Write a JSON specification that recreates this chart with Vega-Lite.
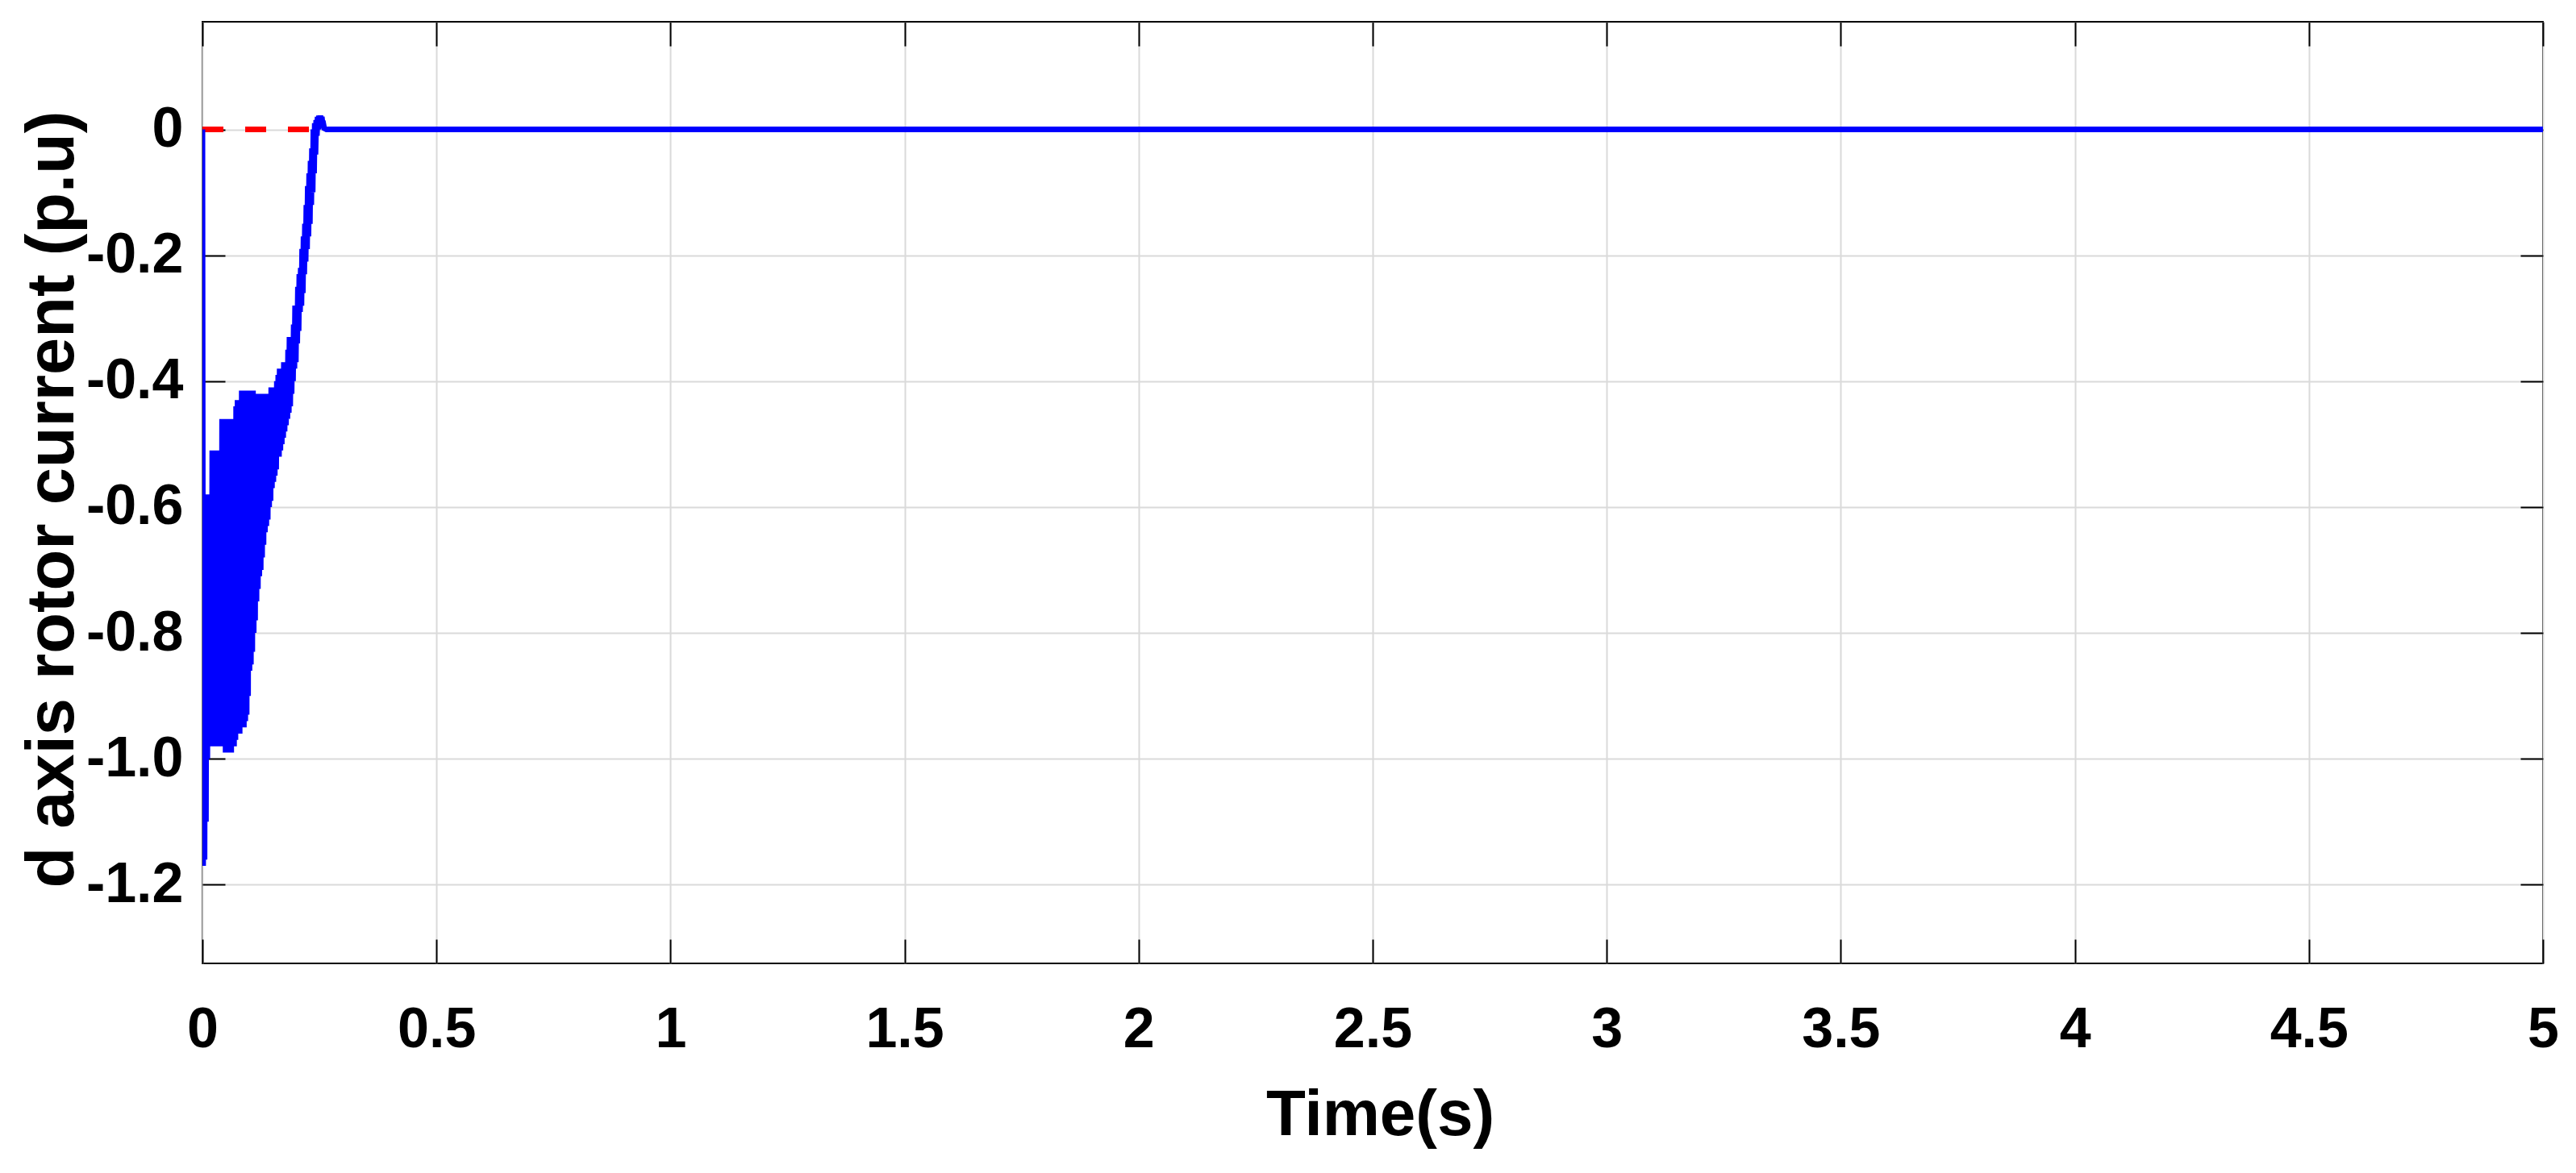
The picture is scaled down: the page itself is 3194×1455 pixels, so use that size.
{
  "$schema": "https://vega.github.io/schema/vega-lite/v6.json",
  "autosize": {"type": "none"},
  "padding": {"left": 251, "top": 27, "right": 41, "bottom": 260},
  "width": 2902,
  "height": 1168,
  "background": "white",
  "config": {
    "view": {"stroke": "black", "strokeWidth": 2},
    "axis": {"domain": false, "tickColor": "black", "tickWidth": 2, "gridColor": "#dadada", "gridWidth": 2, "labelColor": "black", "titleColor": "black"}
  },
  "layer": [
    {
      "data": {"values": [{"t": 0, "v": 0}, {"t": 5, "v": 0}]},
      "mark": {"type": "line", "color": "#ff0000", "strokeWidth": 7, "strokeDash": [26, 27]},
      "encoding": {
        "x": {"field": "t", "type": "quantitative", "scale": {"domain": [0, 5], "nice": false, "zero": false},
          "axis": {"orient": "bottom", "values": [0, 0.5, 1, 1.5, 2, 2.5, 3, 3.5, 4, 4.5, 5], "format": "~g", "grid": true, "tickSize": -30, "labelPadding": 133, "labelBaseline": "alphabetic", "labelFlush": false, "labelOverlap": false, "labelBound": false, "labelFont": "Liberation Sans Narrow, Liberation Sans", "labelFontWeight": "bold", "labelFontSize": 70,
            "title": "Time(s)", "titleFont": "Liberation Sans Narrow, Liberation Sans", "titleFontWeight": "bold", "titleFontSize": 80, "titleBaseline": "alphabetic", "titleAlign": "center", "titleX": 1460, "titleY": 212}},
        "y": {"field": "v", "type": "quantitative", "scale": {"domain": [-1.325, 0.171], "nice": false, "zero": false},
          "axis": {"orient": "left", "values": [0, -0.2, -0.4, -0.6, -0.8, -1.0, -1.2], "labelExpr": "datum.value == 0 ? '0' : replace(format(datum.value, '.1f'), '\u2212', '-')", "grid": true, "tickSize": -28, "labelPadding": 52, "labelOverlap": false, "labelBound": false, "labelFont": "Liberation Sans Narrow, Liberation Sans", "labelFontWeight": "bold", "labelFontSize": 70,
            "title": "d axis rotor current (p.u)", "titleFont": "Liberation Sans", "titleFontWeight": "bold", "titleFontSize": 83, "titleBaseline": "alphabetic", "titleAngle": -90, "titleAlign": "center", "titleX": -161, "titleY": 592}}
      }
    },
    {
      "data": {"values": [
        {"t": 0, "v": 0}, {"t": 0.0015, "v": -1.17}, {"t": 0.003, "v": -0.62}, {"t": 0.0045, "v": -1.16}, {"t": 0.006, "v": -0.6}, {"t": 0.0075, "v": -1.1}, {"t": 0.009, "v": -0.58}, {"t": 0.0105, "v": -1.0}, {"t": 0.012, "v": -0.58}, {"t": 0.0135, "v": -0.97}, {"t": 0.015, "v": -0.58}, {"t": 0.0165, "v": -0.97}, {"t": 0.018, "v": -0.58}, {"t": 0.0195, "v": -0.97},
        {"t": 0.021, "v": -0.51}, {"t": 0.0225, "v": -0.98}, {"t": 0.024, "v": -0.51}, {"t": 0.0255, "v": -0.98}, {"t": 0.027, "v": -0.51}, {"t": 0.0285, "v": -0.98}, {"t": 0.03, "v": -0.51}, {"t": 0.0315, "v": -0.98}, {"t": 0.033, "v": -0.51}, {"t": 0.0345, "v": -0.98}, {"t": 0.036, "v": -0.51}, {"t": 0.0375, "v": -0.97}, {"t": 0.039, "v": -0.51}, {"t": 0.0405, "v": -0.96},
        {"t": 0.042, "v": -0.46}, {"t": 0.0435, "v": -0.97}, {"t": 0.045, "v": -0.46}, {"t": 0.0465, "v": -0.98}, {"t": 0.048, "v": -0.46}, {"t": 0.0495, "v": -0.99}, {"t": 0.051, "v": -0.46}, {"t": 0.0525, "v": -0.99}, {"t": 0.054, "v": -0.46}, {"t": 0.0555, "v": -0.99}, {"t": 0.057, "v": -0.46}, {"t": 0.0585, "v": -0.99}, {"t": 0.06, "v": -0.46}, {"t": 0.0615, "v": -0.99}, {"t": 0.063, "v": -0.46}, {"t": 0.0645, "v": -0.98}, {"t": 0.066, "v": -0.46}, {"t": 0.0675, "v": -0.98}, {"t": 0.069, "v": -0.46}, {"t": 0.0705, "v": -0.97},
        {"t": 0.072, "v": -0.44}, {"t": 0.0735, "v": -0.96}, {"t": 0.075, "v": -0.43}, {"t": 0.0765, "v": -0.96}, {"t": 0.078, "v": -0.43}, {"t": 0.0795, "v": -0.96}, {"t": 0.081, "v": -0.43}, {"t": 0.0825, "v": -0.95}, {"t": 0.084, "v": -0.415}, {"t": 0.0855, "v": -0.95}, {"t": 0.087, "v": -0.415}, {"t": 0.0885, "v": -0.95}, {"t": 0.09, "v": -0.415}, {"t": 0.0915, "v": -0.94}, {"t": 0.093, "v": -0.415}, {"t": 0.0945, "v": -0.93}, {"t": 0.096, "v": -0.415}, {"t": 0.0975, "v": -0.9}, {"t": 0.099, "v": -0.415}, {"t": 0.1005, "v": -0.86},
        {"t": 0.102, "v": -0.415}, {"t": 0.1035, "v": -0.85}, {"t": 0.105, "v": -0.415}, {"t": 0.1065, "v": -0.83}, {"t": 0.108, "v": -0.415}, {"t": 0.1095, "v": -0.8}, {"t": 0.111, "v": -0.42}, {"t": 0.1125, "v": -0.78}, {"t": 0.114, "v": -0.42}, {"t": 0.1155, "v": -0.75}, {"t": 0.117, "v": -0.42}, {"t": 0.1185, "v": -0.73}, {"t": 0.12, "v": -0.42}, {"t": 0.1215, "v": -0.71}, {"t": 0.123, "v": -0.42}, {"t": 0.1245, "v": -0.7}, {"t": 0.126, "v": -0.42}, {"t": 0.1275, "v": -0.68}, {"t": 0.129, "v": -0.42}, {"t": 0.1305, "v": -0.66},
        {"t": 0.132, "v": -0.43}, {"t": 0.1335, "v": -0.64}, {"t": 0.135, "v": -0.43}, {"t": 0.1365, "v": -0.63}, {"t": 0.138, "v": -0.43}, {"t": 0.1395, "v": -0.62}, {"t": 0.141, "v": -0.42}, {"t": 0.1425, "v": -0.6}, {"t": 0.144, "v": -0.42}, {"t": 0.1455, "v": -0.59}, {"t": 0.147, "v": -0.41}, {"t": 0.1485, "v": -0.57}, {"t": 0.15, "v": -0.41}, {"t": 0.1515, "v": -0.56}, {"t": 0.153, "v": -0.41}, {"t": 0.1545, "v": -0.55}, {"t": 0.156, "v": -0.41}, {"t": 0.1575, "v": -0.54}, {"t": 0.159, "v": -0.4}, {"t": 0.1605, "v": -0.52},
        {"t": 0.162, "v": -0.39}, {"t": 0.1635, "v": -0.52}, {"t": 0.165, "v": -0.38}, {"t": 0.1665, "v": -0.51}, {"t": 0.168, "v": -0.38}, {"t": 0.1695, "v": -0.5}, {"t": 0.171, "v": -0.38}, {"t": 0.1725, "v": -0.49}, {"t": 0.174, "v": -0.37}, {"t": 0.1755, "v": -0.48}, {"t": 0.177, "v": -0.37}, {"t": 0.1785, "v": -0.47}, {"t": 0.18, "v": -0.37}, {"t": 0.1815, "v": -0.46}, {"t": 0.183, "v": -0.35}, {"t": 0.1845, "v": -0.45}, {"t": 0.186, "v": -0.33}, {"t": 0.1875, "v": -0.44}, {"t": 0.189, "v": -0.33}, {"t": 0.1905, "v": -0.42},
        {"t": 0.192, "v": -0.33}, {"t": 0.1935, "v": -0.4}, {"t": 0.195, "v": -0.31}, {"t": 0.1965, "v": -0.38}, {"t": 0.198, "v": -0.28}, {"t": 0.1995, "v": -0.37}, {"t": 0.201, "v": -0.28}, {"t": 0.2025, "v": -0.34}, {"t": 0.204, "v": -0.25}, {"t": 0.2055, "v": -0.32}, {"t": 0.207, "v": -0.23}, {"t": 0.2085, "v": -0.29}, {"t": 0.21, "v": -0.22}, {"t": 0.2115, "v": -0.28}, {"t": 0.213, "v": -0.19}, {"t": 0.2145, "v": -0.26}, {"t": 0.216, "v": -0.17}, {"t": 0.2175, "v": -0.23}, {"t": 0.219, "v": -0.15}, {"t": 0.2205, "v": -0.21},
        {"t": 0.222, "v": -0.12}, {"t": 0.2235, "v": -0.19}, {"t": 0.225, "v": -0.09}, {"t": 0.2265, "v": -0.17}, {"t": 0.228, "v": -0.07}, {"t": 0.2295, "v": -0.15}, {"t": 0.231, "v": -0.05}, {"t": 0.2325, "v": -0.12}, {"t": 0.234, "v": -0.03}, {"t": 0.2355, "v": -0.1}, {"t": 0.237, "v": 0.0}, {"t": 0.2385, "v": -0.07}, {"t": 0.24, "v": 0.01}, {"t": 0.2415, "v": -0.04}, {"t": 0.243, "v": 0.015}, {"t": 0.2445, "v": -0.01}, {"t": 0.246, "v": 0.02}, {"t": 0.2475, "v": 0.0}, {"t": 0.249, "v": 0.022}, {"t": 0.2505, "v": 0.01},
        {"t": 0.252, "v": 0.022}, {"t": 0.2535, "v": 0.012}, {"t": 0.255, "v": 0.02}, {"t": 0.2565, "v": 0.01}, {"t": 0.258, "v": 0.01}, {"t": 0.26, "v": 0.002}, {"t": 0.265, "v": 0.0},
        {"t": 0.5, "v": 0.0}, {"t": 1.0, "v": 0.0}, {"t": 1.5, "v": 0.0}, {"t": 2.0, "v": 0.0}, {"t": 2.5, "v": 0.0}, {"t": 3.0, "v": 0.0}, {"t": 3.5, "v": 0.0}, {"t": 4.0, "v": 0.0}, {"t": 4.5, "v": 0.0}, {"t": 5.0, "v": 0.0}
      ]},
      "mark": {"type": "line", "color": "#0000ff", "strokeWidth": 7, "strokeJoin": "miter", "clip": true},
      "encoding": {
        "x": {"field": "t", "type": "quantitative", "axis": {"orient": "top", "values": [0, 0.5, 1, 1.5, 2, 2.5, 3, 3.5, 4, 4.5, 5], "labels": false, "title": null, "grid": false, "tickSize": -30}},
        "y": {"field": "v", "type": "quantitative", "axis": {"orient": "right", "values": [0, -0.2, -0.4, -0.6, -0.8, -1.0, -1.2], "labels": false, "title": null, "grid": false, "tickSize": -28}}
      }
    }
  ],
  "resolve": {"axis": {"x": "independent", "y": "independent"}}
}
